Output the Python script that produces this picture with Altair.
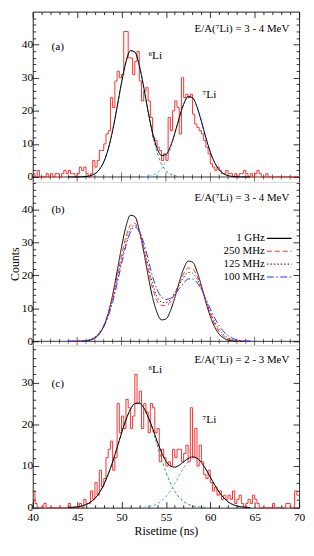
import altair as alt
import pandas as pd

FONT = "Liberation Serif"
X_DOMAIN = [40, 70]
BIN_START = 40.0
BIN_WIDTH = 0.25

# Histogram counts, 0.25 ns bins from 40 to 70 ns
HIST_A = [1, 0, 2, 0, 0, 0, 1, 0, 1, 0,
          1, 1, 0, 1, 2, 1, 2, 1, 1, 0,
          1, 3, 2, 3, 1, 0, 1, 5, 3, 5,
          8, 8, 10, 13, 14, 24, 21, 29, 32, 30,
          31, 44, 44, 36, 36, 31, 35, 38, 29, 23,
          26, 27, 23, 18, 12, 11, 9, 8, 5, 7,
          5, 18, 14, 20, 23, 21, 13, 30, 24, 25,
          24, 25, 19, 16, 15, 14, 13, 11, 9, 7,
          4, 3, 2, 3, 2, 1, 1, 2, 1, 1,
          0, 1, 0, 1, 1, 2, 1, 0, 1, 0,
          1, 2, 1, 0, 0, 1, 0, 0, 0, 0,
          0, 0, 0, 0, 0, 0, 0, 0, 0, 0]
HIST_C = [4, 1, 0, 0, 0, 1, 0, 0, 0, 0,
          0, 0, 0, 0, 0, 0, 1, 0, 0, 0,
          0, 1, 0, 2, 1, 1, 4, 2, 6, 3,
          9, 5, 7, 12, 14, 16, 9, 12, 25, 18,
          22, 19, 26, 24, 19, 22, 32, 25, 28, 19,
          25, 23, 18, 25, 24, 18, 19, 11, 14, 12,
          10, 11, 10, 14, 12, 14, 14, 11, 13, 15,
          11, 24, 12, 19, 10, 15, 11, 8, 7, 9,
          6, 4, 5, 3, 4, 2, 3, 2, 3, 2,
          4, 1, 2, 3, 1, 0, 1, 2, 1, 3,
          2, 1, 0, 0, 0, 0, 0, 0, 1, 0,
          0, 0, 0, 0, 1, 1, 0, 0, 4, 3]

# Fit curves sampled every 0.5 ns
FIT_X = [44.0, 44.5, 45.0, 45.5, 46.0, 46.5, 47.0, 47.5, 48.0, 48.5,
         49.0, 49.5, 50.0, 50.5, 51.0, 51.5, 52.0, 52.5, 53.0, 53.5,
         54.0, 54.5, 55.0, 55.5, 56.0, 56.5, 57.0, 57.5, 58.0, 58.5,
         59.0, 59.5, 60.0, 60.5, 61.0, 61.5, 62.0, 62.5, 63.0, 63.5,
         64.0, 64.5]
A_TOTAL = [0.0, 0.0, 0.01, 0.04, 0.14, 0.39, 0.97, 2.22, 4.56, 8.43,
           14.05, 21.1, 28.5, 34.8, 38.2, 37.8, 33.7, 27.2, 19.8, 13.3,
           8.7, 6.5, 6.75, 9.2, 13.2, 17.9, 22.0, 24.3, 24.0, 21.2,
           16.8, 11.9, 7.56, 4.29, 2.18, 0.99, 0.40, 0.15, 0.05, 0.01,
           0.0, 0.0]
A_LI6 = [0.0, 0.0, 0.01, 0.04, 0.14, 0.39, 0.97, 2.22, 4.56, 8.43,
         14.05, 21.1, 28.5, 34.8, 38.2, 37.8, 33.7, 27.1, 19.6, 12.8,
         7.5, 3.98, 1.90, 0.82, 0.32, 0.11, 0.03, 0.01, 0.0, 0.0,
         0.0, 0.0, 0.0, 0.0, 0.0, 0.0, 0.0, 0.0, 0.0, 0.0,
         0.0, 0.0]
A_LI7 = [0.0, 0.0, 0.0, 0.0, 0.0, 0.0, 0.0, 0.0, 0.0, 0.0,
         0.0, 0.0, 0.0, 0.0, 0.0, 0.0, 0.02, 0.06, 0.18, 0.49,
         1.17, 2.52, 4.85, 8.36, 12.9, 17.8, 22.0, 24.3, 24.0, 21.2,
         16.8, 11.9, 7.56, 4.29, 2.18, 0.99, 0.40, 0.15, 0.05, 0.01,
         0.0, 0.0]

B_LABELS = ["1 GHz", "250 MHz", "125 MHz", "100 MHz"]
B_1GHZ = [0.0, 0.0, 0.01, 0.04, 0.14, 0.39, 0.97, 2.22, 4.56, 8.43,
          14.05, 21.1, 28.5, 34.8, 38.2, 37.8, 33.7, 27.2, 19.8, 13.3,
          8.7, 6.5, 6.75, 9.2, 13.2, 17.9, 22.0, 24.3, 24.0, 21.2,
          16.8, 11.9, 7.56, 4.29, 2.18, 0.99, 0.40, 0.15, 0.05, 0.01,
          0.0, 0.0]
B_250 = [0.0, 0.01, 0.03, 0.08, 0.22, 0.55, 1.25, 2.6, 4.9, 8.5,
         13.5, 19.6, 26.0, 31.6, 35.2, 35.8, 33.0, 27.8, 21.6, 16.1,
         12.3, 10.9, 10.8, 11.9, 14.5, 17.6, 20.5, 22.2, 22.0, 19.9,
         16.4, 12.3, 8.38, 5.22, 2.96, 1.53, 0.72, 0.31, 0.12, 0.04,
         0.01, 0.0]
B_125 = [0.0, 0.01, 0.03, 0.08, 0.22, 0.55, 1.2, 2.45, 4.6, 7.9,
         12.5, 18.3, 24.5, 30.0, 33.9, 35.1, 33.2, 28.8, 23.0, 17.6,
         13.5, 11.9, 11.7, 12.6, 14.6, 17.1, 19.4, 20.85, 20.6, 18.9,
         15.9, 12.4, 8.9, 5.9, 3.61, 2.04, 1.06, 0.51, 0.23, 0.09,
         0.03, 0.01]
B_100 = [0.0, 0.01, 0.03, 0.08, 0.22, 0.52, 1.15, 2.34, 4.38, 7.55,
         11.95, 17.45, 23.45, 28.95, 33.0, 34.6, 33.45, 29.9, 24.9, 19.6,
         15.8, 13.4, 12.7, 13.0, 14.2, 16.0, 17.6, 18.9, 18.9, 17.8,
         15.6, 12.8, 9.85, 7.07, 4.74, 2.96, 1.73, 0.95, 0.48, 0.23,
         0.10, 0.04]

C_TOTAL = [0.04, 0.09, 0.19, 0.39, 0.73, 1.31, 2.23, 3.60, 5.51, 8.01,
           11.0, 14.4, 17.9, 21.1, 23.6, 25.0, 25.1, 24.0, 21.8, 19.1,
           16.0, 13.3, 11.2, 10.0, 9.72, 10.2, 11.0, 11.8, 12.2, 11.9,
           10.85, 9.25, 7.35, 5.43, 3.73, 2.38, 1.41, 0.78, 0.40, 0.19,
           0.08, 0.03]
C_LI6 = [0.04, 0.09, 0.19, 0.39, 0.73, 1.31, 2.23, 3.60, 5.51, 8.01,
         11.0, 14.4, 17.9, 21.1, 23.6, 25.0, 25.1, 23.9, 21.6, 18.6,
         15.1, 11.7, 8.57, 5.96, 3.93, 2.46, 1.46, 0.82, 0.44, 0.22,
         0.11, 0.05, 0.0, 0.0, 0.0, 0.0, 0.0, 0.0, 0.0, 0.0,
         0.0, 0.0]
C_LI7 = [0.0, 0.0, 0.0, 0.0, 0.0, 0.0, 0.0, 0.0, 0.0, 0.0,
         0.0, 0.0, 0.0, 0.0, 0.0, 0.0, 0.0, 0.10, 0.22, 0.46,
         0.88, 1.58, 2.62, 4.04, 5.79, 7.72, 9.55, 10.98, 11.73, 11.65,
         10.74, 9.20, 7.33, 5.42, 3.73, 2.38, 1.41, 0.78, 0.40, 0.19,
         0.08, 0.03]

ZERO_TICKS = [41, 42, 43, 44, 45, 46, 47, 48, 49, 50, 51, 52, 53, 54, 55,
              56, 57, 58, 59, 60, 61, 62, 63, 64, 65, 66, 67, 68, 69]
X_TICKS = list(range(40, 71))

C_6LI = "#2f9e82"
C_7LI = "#62b3e6"
B_COLORS = ["#000000", "#ff2f2f", "#8b1f1f", "#1f3bff"]
B_DASHES = [[1, 0], [5, 3], [1.5, 2], [7, 2.5, 1.5, 2.5]]

W = 269


def hist_df(counts):
    xs = [BIN_START + i * BIN_WIDTH for i in range(len(counts))] + [X_DOMAIN[1]]
    return pd.DataFrame({"x": xs, "y": counts + [counts[-1]]})


def fit_df(values, min_y=None):
    df = pd.DataFrame({"x": FIT_X, "y": values})
    if min_y is not None:
        df = df[df["y"] >= min_y]
    return df


XS = alt.Scale(domain=X_DOMAIN, nice=False, zero=False)


def ys(lo, hi):
    return alt.Scale(domain=[lo, hi], nice=False, zero=False)


def y_axis(orient, vals, labels, title=None):
    kw = dict(orient=orient, values=vals, grid=False, domain=True,
              domainColor="black", domainWidth=0.8, ticks=True,
              tickColor="black", tickWidth=0.8,
              tickSize=alt.ExprRef("datum.value % 10 === 0 ? -6 : -3"),
              labels=labels, labelOverlap=False, labelFlush=False,
              labelFont=FONT, labelFontSize=11.5, labelColor="black",
              labelPadding=6, minExtent=0, offset=0)
    if labels:
        kw["labelExpr"] = "datum.value % 10 === 0 ? datum.label : ''"
    if title:
        kw.update(title=title, titleFont=FONT, titleFontSize=12,
                  titleFontWeight="normal", titleColor="black", titlePadding=0)
    else:
        kw["title"] = None
    return alt.Axis(**kw)


def x_axis(orient, labels, title=None):
    kw = dict(orient=orient, values=X_TICKS, grid=False, domain=True,
              domainColor="black", domainWidth=0.8, ticks=True,
              tickColor="black", tickWidth=0.8,
              tickSize=alt.ExprRef("datum.value % 5 === 0 ? -6 : -3"),
              labels=labels, labelOverlap=False, labelFlush=False,
              labelFont=FONT, labelFontSize=11.5, labelColor="black",
              labelPadding=10, minExtent=0, offset=0)
    if labels:
        kw["labelExpr"] = "datum.value % 5 === 0 ? datum.label : ''"
    if title:
        kw.update(title=title, titleFont=FONT, titleFontSize=12,
                  titleFontWeight="normal", titleColor="black", titlePadding=0)
    else:
        kw["title"] = None
    return alt.Axis(**kw)


def zero_layers(yscale, right_axis=None):
    rule = alt.Chart(pd.DataFrame({"a": [0]})).mark_rule(
        color="black", strokeWidth=0.8).encode(
        x=alt.X(datum=X_DOMAIN[0], scale=XS, axis=None),
        x2=alt.datum(X_DOMAIN[1]),
        y=alt.Y(datum=0, scale=yscale, axis=right_axis))
    tdf = pd.DataFrame({"t": ZERO_TICKS})
    minor = alt.Chart(tdf).transform_filter("datum.t % 5 != 0").mark_tick(
        orient="vertical", size=5, thickness=0.8, color="black").encode(
        x=alt.X("t:Q", scale=XS, axis=None),
        y=alt.Y(datum=0, scale=yscale, axis=None))
    major = alt.Chart(tdf).transform_filter("datum.t % 5 == 0").mark_tick(
        orient="vertical", size=9, thickness=0.8, color="black").encode(
        x=alt.X("t:Q", scale=XS, axis=None),
        y=alt.Y(datum=0, scale=yscale, axis=None))
    return [rule, minor, major]


def text_layer(txt, x, y, yscale, align="left", size=11.5):
    return alt.Chart(pd.DataFrame({"a": [0]})).mark_text(
        text=txt, align=align, baseline="middle", font=FONT, fontSize=size,
        color="black").encode(
        x=alt.X(datum=x, scale=XS, axis=None),
        y=alt.Y(datum=y, scale=yscale, axis=None))


def curve(values, yscale, color, dash=None, min_y=None, axis=None, width=1.0):
    kw = dict(color=color, strokeWidth=width, interpolate="monotone")
    if dash:
        kw["strokeDash"] = dash
    return alt.Chart(fit_df(values, min_y)).mark_line(**kw).encode(
        x=alt.X("x:Q", scale=XS, axis=None),
        y=alt.Y("y:Q", scale=yscale, axis=axis))


# ---------- panel (a)
YA = ys(-1.5, 50)
ya_vals = list(range(0, 49, 2))
hist_a = alt.Chart(hist_df(HIST_A)).mark_line(
    interpolate="step-after", color="#ff1a1a", strokeWidth=0.9).encode(
    x=alt.X("x:Q", scale=XS, axis=x_axis("top", False)),
    y=alt.Y("y:Q", scale=YA, axis=y_axis("left", ya_vals, True)))
panel_a = alt.layer(
    *zero_layers(YA, y_axis("right", ya_vals, False)),
    hist_a,
    curve(A_LI6, YA, C_6LI, [3, 2], 0.05),
    curve(A_LI7, YA, C_7LI, [3, 2], 0.05),
    curve(A_TOTAL, YA, "black"),
    text_layer("E/A(⁷Li) = 3 - 4 MeV", 68.9, 44.8, YA, "right", 11),
    text_layer("(a)", 42.1, 39.4, YA),
    text_layer("⁶Li", 53.0, 36.7, YA),
    text_layer("⁷Li", 59.1, 24.8, YA),
).resolve_axis(x="independent", y="independent").properties(width=W, height=172)

# ---------- panel (b)
YB = ys(-1.2, 48.3)
yb_vals = list(range(0, 49, 2))
rows = []
for lab, vals in zip(B_LABELS, [B_1GHZ, B_250, B_125, B_100]):
    for xv, yv in zip(FIT_X, vals):
        rows.append({"x": xv, "y": yv, "s": lab})
bdf = pd.DataFrame(rows)
lines_b = alt.Chart(bdf).mark_line(interpolate="monotone", strokeWidth=1.0).encode(
    x=alt.X("x:Q", scale=XS, axis=None),
    y=alt.Y("y:Q", scale=YB, axis=y_axis("left", yb_vals, True, "Counts")),
    color=alt.Color("s:N", scale=alt.Scale(domain=B_LABELS, range=B_COLORS),
                    legend=alt.Legend(orient="none", legendX=243, legendY=223,
                                      title=None, symbolType="M-2.5,0H2.5",
                                      symbolSize=100, symbolStrokeWidth=1.1,
                                      labelAlign="right",
                                      labelOffset=alt.ExprRef("-20.5"),
                                      labelFont=FONT, labelFontSize=11,
                                      labelColor="black", rowPadding=2,
                                      padding=0)),
    strokeDash=alt.StrokeDash("s:N", scale=alt.Scale(domain=B_LABELS, range=B_DASHES),
                              legend=None),
    order=alt.Order("s:N"))
panel_b = alt.layer(
    *zero_layers(YB, y_axis("right", yb_vals, False)),
    lines_b,
    text_layer("E/A(⁷Li) = 3 - 4 MeV", 68.9, 43.3, YB, "right", 11),
    text_layer("(b)", 42.1, 39.8, YB),
).resolve_axis(x="independent", y="independent").properties(width=W, height=165)

# ---------- panel (c)
YC = ys(0, 39)
yc_vals = list(range(0, 39, 2))
hist_c = alt.Chart(hist_df(HIST_C)).mark_line(
    interpolate="step-after", color="#ff1a1a", strokeWidth=0.9).encode(
    x=alt.X("x:Q", scale=XS, axis=x_axis("bottom", True, "Risetime (ns)")),
    y=alt.Y("y:Q", scale=YC, axis=y_axis("left", yc_vals, True)))
panel_c = alt.layer(
    hist_c,
    curve(C_LI6, YC, C_6LI, [3, 2], 0.05),
    curve(C_LI7, YC, C_7LI, [3, 2], 0.05),
    curve(C_TOTAL, YC, "black", axis=y_axis("right", yc_vals, False)),
    text_layer("E/A(⁷Li) = 2 - 3 MeV", 68.9, 35.5, YC, "right", 11),
    text_layer("(c)", 42.1, 29.6, YC),
    text_layer("⁶Li", 53.0, 33.1, YC),
    text_layer("⁷Li", 59.1, 21.0, YC),
).resolve_axis(x="independent", y="independent").properties(width=W, height=164)

chart = alt.vconcat(panel_a, panel_b, panel_c, spacing=0, bounds="flush").properties(
    padding=0
).configure_view(stroke=None).configure(font=FONT)

chart.save("out.html", embed_options={"renderer": "svg", "actions": False})
